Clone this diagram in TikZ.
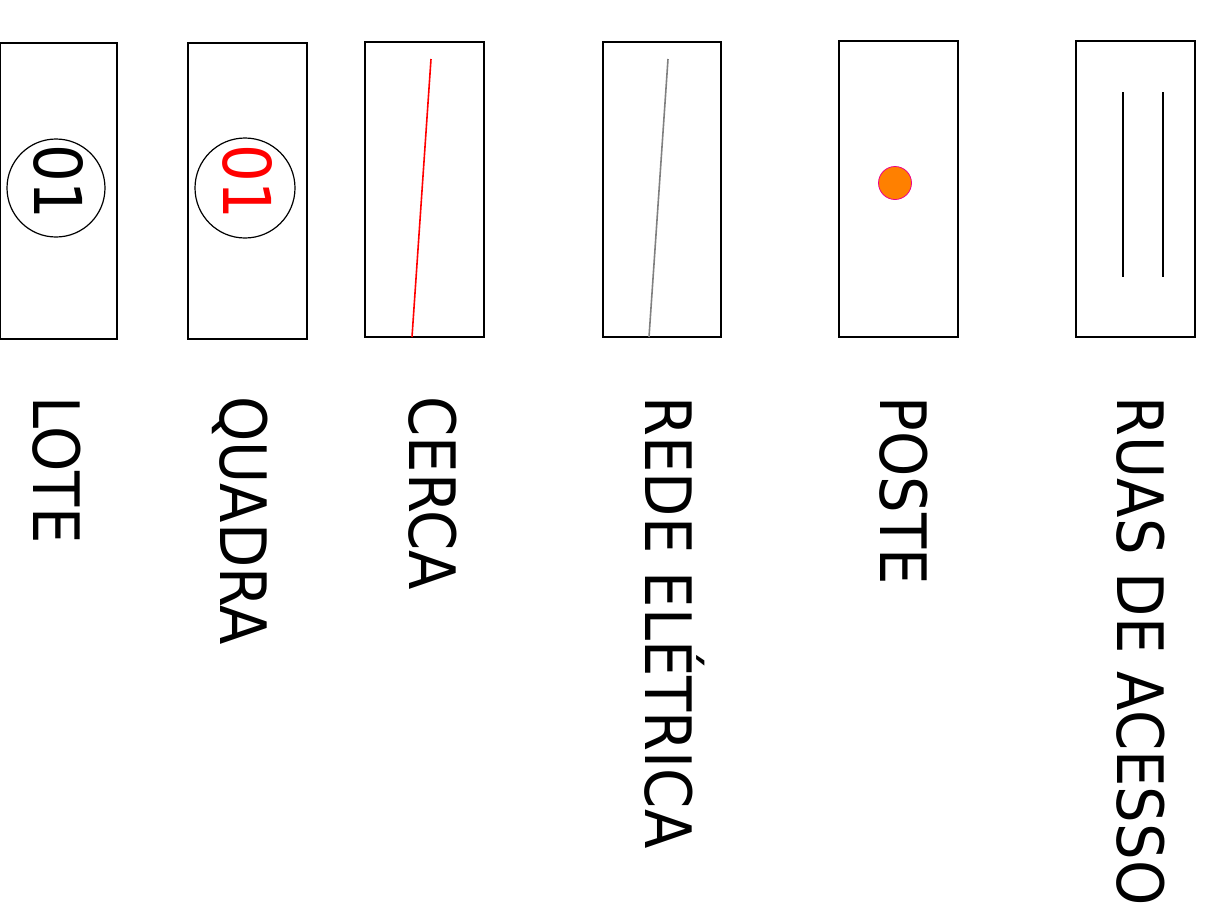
\documentclass[tikz,border=0pt]{standalone}
\usepackage{fontspec}
\setmainfont{DejaVu Sans}[FakeStretch=0.9]
\tikzset{
  legenda/.style={rotate=-90,anchor=base west,inner sep=0pt,font=\fontsize{32}{38}\selectfont},
  numero/.style={rotate=-90,inner sep=0pt,font=\fontsize{33}{38}\selectfont},
  caixa/.style={line width=1pt}
}
\begin{document}
\begin{tikzpicture}[x=0.5pt,y=-0.5pt]
            \useasboundingbox (0,0) rectangle (1214,922);
            % caixas da legenda
            \draw[caixa] (0,43) coordinate (L1) rectangle (117,339) coordinate (L2);
            \draw[caixa] (188,43) coordinate (Q1) rectangle (307,339) coordinate (Q2);
            \draw[caixa] (365,42) coordinate (C1) rectangle (484,337) coordinate (C2);
            \draw[caixa] (603,42) coordinate (R1) rectangle (721,337) coordinate (R2);
            \draw[caixa] (839,41) coordinate (P1) rectangle (958,337) coordinate (P2);
            \draw[caixa] (1076,41) coordinate (A1) rectangle (1195,337) coordinate (A2);
            % simbolos
            \draw[line width=0.6pt] (56,188) coordinate (lc) circle (49);
            \node[numero] (ln) at (59,182) {01};
            \draw[line width=0.6pt] (245,188) coordinate (qc) circle (50);
            \node[numero,red] (qn) at (248,182) {01};
            \draw[red,line width=0.8pt] (431,59) coordinate (c3) -- (412,337) coordinate (c4);
            \draw[gray,line width=0.8pt] (668,59) coordinate (r3) -- (649,337) coordinate (r4);
            \fill[orange,draw=magenta,line width=0.4pt] (895,183) coordinate (pc) circle (16.5);
            \draw[line width=0.8pt] (1123,92) coordinate (a3) -- (1123,277) coordinate (a4);
            \draw[line width=0.8pt] (1163,92) coordinate (a5) -- (1163,277) coordinate (a6);
            % textos
            \node[legenda] (lote) at (33,396) {LOTE};
            \node[legenda] (quadra) at (220,396) {QUADRA};
            \node[legenda] (cerca) at (409,396) {CERCA};
            \node[legenda] (rede) at (645,396) {REDE ELÉTRICA};
            \node[legenda] (poste) at (880,396) {POSTE};
            \node[legenda] (ruas) at (1117,396) {RUAS DE ACESSO};
        \end{tikzpicture}
\end{document}
